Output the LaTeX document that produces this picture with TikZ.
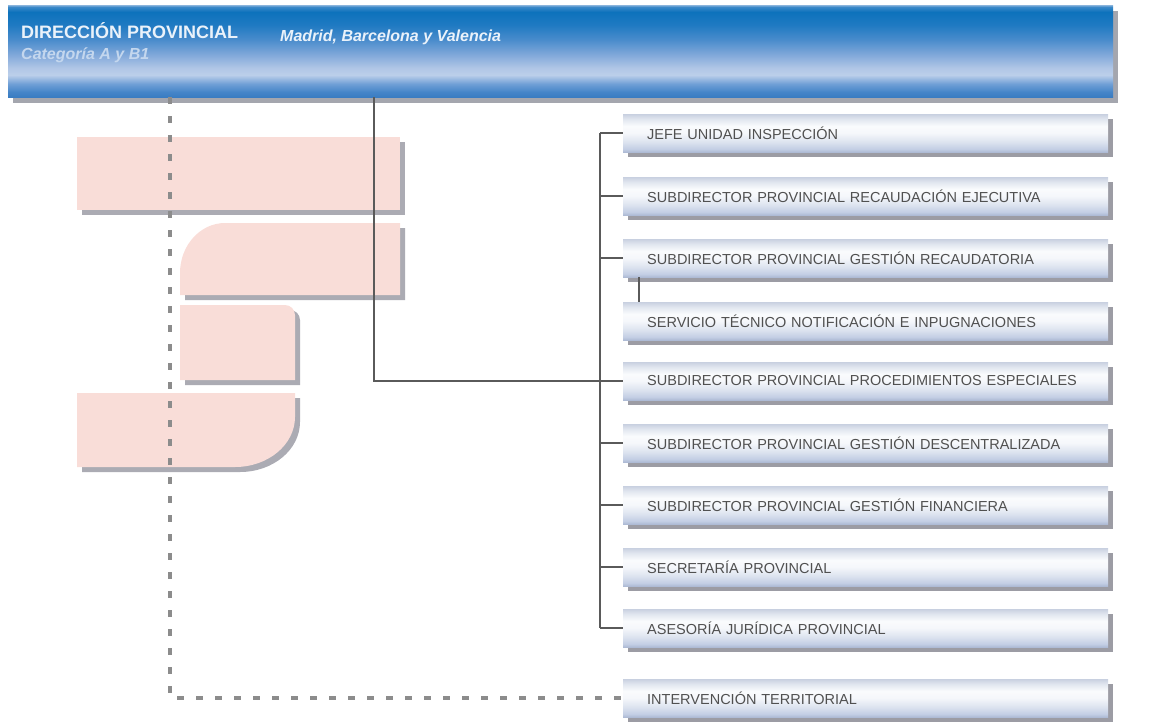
\documentclass[tikz,border=0pt]{standalone}
\usepackage{fontspec}
\setmainfont{Liberation Sans}
\usetikzlibrary{shadows}
\definecolor{pinkfill}{HTML}{F9DDD8}
\definecolor{pinkshadow}{HTML}{ABABB3}
\definecolor{boxtext}{HTML}{505050}
\definecolor{linegray}{HTML}{5A5A5A}
\definecolor{dashgray}{HTML}{8C8C8C}
\definecolor{titlewhite}{HTML}{EAF2FA}
\definecolor{subtitle}{HTML}{C4D7EE}
\definecolor{boxshadow}{HTML}{9C9CA4}
\definecolor{hdrshadow}{HTML}{A4A6AE}
\definecolor{hA}{HTML}{3A7CC2}
\definecolor{hB}{HTML}{4585C8}
\definecolor{hC}{HTML}{6F9FD6}
\definecolor{hD}{HTML}{BCCFEA}
\definecolor{hE}{HTML}{B0C6E6}
\definecolor{hF}{HTML}{82A9DA}
\definecolor{hG}{HTML}{4A8CCC}
\definecolor{hH}{HTML}{1F7AC2}
\definecolor{hI}{HTML}{0D72BC}
\definecolor{hJ}{HTML}{3A88C8}
\definecolor{hK}{HTML}{8AB4DC}
\definecolor{bA}{HTML}{AEBBD5}
\definecolor{bB}{HTML}{C3CEE4}
\definecolor{bC}{HTML}{DCE3EF}
\definecolor{bD}{HTML}{F5F7FB}
\definecolor{bE}{HTML}{FAFBFD}
\definecolor{bF}{HTML}{E2E7F0}
\definecolor{bG}{HTML}{C8D0E0}
\pgfdeclareverticalshading{hdrshade}{100bp}{color(0bp)=(hA); color(25bp)=(hA); color(27.7bp)=(hB); color(32.1bp)=(hC); color(37bp)=(hD); color(40.8bp)=(hE); color(47.8bp)=(hF); color(56bp)=(hG); color(64.1bp)=(hH); color(71.2bp)=(hI); color(73.9bp)=(hJ); color(75bp)=(hK); color(100bp)=(hK)}
\pgfdeclareverticalshading{boxshade}{100bp}{color(0bp)=(bA); color(25bp)=(bA); color(29bp)=(bB); color(38bp)=(bC); color(50bp)=(bD); color(59bp)=(bE); color(68bp)=(bF); color(75bp)=(bG); color(100bp)=(bG)}
\tikzset{
  unitbox/.style={shade, shading=boxshade, rectangle, minimum height=38pt, text width=437pt,
    inner xsep=24pt, inner ysep=0pt, align=left, anchor=west,
    font=\fontsize{14.5}{16}\selectfont, text=boxtext,
    drop shadow={shadow xshift=5pt, shadow yshift=-5pt, fill=boxshadow, opacity=1}},
  hdrbox/.style={shade, shading=hdrshade, rectangle, minimum width=1105pt, minimum height=92pt, inner sep=0pt,
    drop shadow={shadow xshift=5pt, shadow yshift=-6pt, fill=hdrshadow, opacity=1}},
  treeline/.style={draw=linegray, line width=2.2pt},
  dashline/.style={draw=dashgray, line width=4pt, dash pattern=on 7pt off 12pt},
  titletext/.style={anchor=west, inner sep=0pt, text=titlewhite}
}
\begin{document}
\begin{tikzpicture}[x=1pt,y=-1pt]
\useasboundingbox (0,0) rectangle (1149,723);
% pink decorative shapes with shadows
\foreach \dd/\col in {5/pinkshadow,0/pinkfill}{
  \begin{scope}[shift={(\dd,\dd)}]
  \fill[\col] (77,137) rectangle (400,210);
  \fill[\col] (180,295) -- (180,273) .. controls (180,245.4) and (200.2,223) .. (225,223) -- (400,223) -- (400,295) -- cycle;
  \fill[\col] (180,305) -- (285,305) .. controls (290.5,305) and (295,309.5) .. (295,315) -- (295,380) -- (180,380) -- cycle;
  \fill[\col] (77,393) -- (295,393) -- (295,417) .. controls (295,444.6) and (268.1,467) .. (235,467) -- (77,467) -- cycle;
  \end{scope}
}
% header
\node[hdrbox] (hdr) at (560.5,51) {};
\node[titletext, font=\fontsize{18}{20}\selectfont\bfseries] (t1) at (21,31) {DIRECCIÓN PROVINCIAL};
\node[titletext, text=subtitle, font=\fontsize{16}{18}\selectfont\bfseries\itshape] (t2) at (21,55) {Categoría A y B1};
\node[titletext, font=\fontsize{16}{18}\selectfont\bfseries\itshape] (t3) at (280,37) {Madrid, Barcelona y Valencia};
% coordinates for connector columns
\coordinate (dl) at (170,0);
\coordinate (hl) at (374,0);
\coordinate (sp) at (600,0);
\coordinate (stub) at (639,0);
% boxes
\node[unitbox] (b1) at (623,133) {JEFE UNIDAD INSPECCIÓN};
\node[unitbox] (b2) at (623,196) {SUBDIRECTOR PROVINCIAL RECAUDACIÓN EJECUTIVA};
\node[unitbox] (b3) at (623,258) {SUBDIRECTOR PROVINCIAL GESTIÓN RECAUDATORIA};
\node[unitbox] (b4) at (623,321) {SERVICIO TÉCNICO NOTIFICACIÓN E INPUGNACIONES};
\node[unitbox] (b5) at (623,381) {SUBDIRECTOR PROVINCIAL PROCEDIMIENTOS ESPECIALES};
\node[unitbox] (b6) at (623,443) {SUBDIRECTOR PROVINCIAL GESTIÓN DESCENTRALIZADA};
\node[unitbox] (b7) at (623,505) {SUBDIRECTOR PROVINCIAL GESTIÓN FINANCIERA};
\node[unitbox] (b8) at (623,567) {SECRETARÍA PROVINCIAL};
\node[unitbox] (b9) at (623,628) {ASESORÍA JURÍDICA PROVINCIAL};
\node[unitbox] (b10) at (623,698) {INTERVENCIÓN TERRITORIAL};
% connectors
\draw[dashline] (hdr.south -| dl) |- (b10.west);
\draw[treeline] (hdr.south -| hl) |- (b5.west);
\draw[treeline] (b1.west -| sp) -- (b9.west -| sp);
\foreach \i in {1,2,3,5,6,7,8,9}{
  \draw[treeline] (b\i.west -| sp) -- (b\i.west);
}
\draw[treeline] (b3.south -| stub) -- (b4.north -| stub);
\end{tikzpicture}
\end{document}
